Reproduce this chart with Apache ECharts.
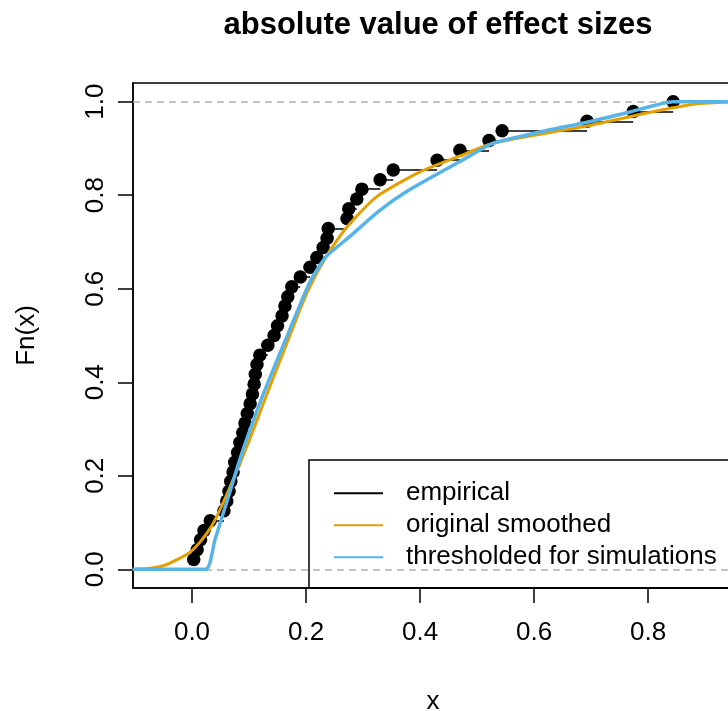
<!DOCTYPE html>
<html><head><meta charset="utf-8">
<script src="https://cdn.jsdelivr.net/npm/echarts@6/dist/echarts.min.js"></script>
<style>html,body{margin:0;padding:0;background:#fff}#c{width:728px;height:711px}</style>
</head><body><div id="c"></div>
<script>
// empirical CDF points (x = |effect size|, y = Fn(x))
const ecdfX = [0.003, 0.009, 0.015, 0.021, 0.032, 0.056, 0.061, 0.065, 0.068, 0.072,
  0.075, 0.080, 0.084, 0.089, 0.093, 0.097, 0.102, 0.106, 0.109, 0.111,
  0.114, 0.119, 0.133, 0.144, 0.150, 0.158, 0.163, 0.168, 0.175, 0.190,
  0.207, 0.219, 0.230, 0.237, 0.239, 0.272, 0.275, 0.289, 0.298, 0.330,
  0.353, 0.430, 0.470, 0.521, 0.544, 0.693, 0.774, 0.844];
const ecdfY = [0.021, 0.042, 0.063, 0.083, 0.104, 0.125, 0.146, 0.167, 0.188, 0.208,
  0.229, 0.250, 0.271, 0.292, 0.313, 0.333, 0.354, 0.375, 0.396, 0.417,
  0.438, 0.458, 0.479, 0.500, 0.521, 0.542, 0.563, 0.583, 0.604, 0.625,
  0.646, 0.667, 0.688, 0.708, 0.729, 0.750, 0.771, 0.792, 0.813, 0.833,
  0.854, 0.875, 0.896, 0.917, 0.938, 0.958, 0.979, 1.000];
// original smoothed CDF
const smoothX = [-0.104, -0.074, -0.047, -0.021, -0.004, 0.014, 0.037, 0.061, 0.098, 0.130,
  0.175, 0.202, 0.235, 0.271, 0.324, 0.400, 0.470, 0.528, 0.628, 0.693, 0.768, 0.844, 0.891, 0.949];
const smoothY = [0.000, 0.002, 0.009, 0.024, 0.036, 0.058, 0.098, 0.160, 0.268, 0.370,
  0.510, 0.592, 0.668, 0.731, 0.797, 0.850, 0.884, 0.911, 0.934, 0.948, 0.968, 0.987, 0.996, 1.000];
// thresholded for simulations
const threshX = [-0.104, 0.024, 0.040, 0.063, 0.088, 0.123, 0.172, 0.207, 0.235, 0.277,
  0.330, 0.382, 0.470, 0.528, 0.628, 0.693, 0.768, 0.844, 0.949];
const threshY = [0.000, 0.000, 0.062, 0.152, 0.250, 0.368, 0.514, 0.615, 0.668, 0.712,
  0.768, 0.812, 0.872, 0.911, 0.940, 0.956, 0.978, 1.000, 1.000];
const xTicks = [0, 0.2, 0.4, 0.6, 0.8];
const yTicks = [0, 0.2, 0.4, 0.6, 0.8, 1.0];
const refLines = [0, 1];

const xMin = -0.1035, xMax = 0.949;
const FONT = 'Liberation Sans, Arial, Helvetica, sans-serif';

const segs = [];
segs.push({coords: [[xMin, 0], [ecdfX[0], 0]]});
for (let i = 0; i < ecdfX.length; i++) {
  const xe = i < ecdfX.length - 1 ? ecdfX[i + 1] : xMax;
  segs.push({coords: [[ecdfX[i], ecdfY[i]], [xe, ecdfY[i]]]});
}

const chart = echarts.init(document.getElementById('c'), null, {renderer: 'canvas'});
chart.setOption({
  animation: false,
  backgroundColor: '#fff',
  title: {
    text: 'absolute value of effect sizes',
    left: 433, top: 5, textAlign: 'center',
    textStyle: {fontFamily: FONT, fontSize: 31, fontWeight: 'bold', color: '#000'}
  },
  grid: {left: 133, top: 83, width: 600, height: 505, show: true, outerBoundsMode: 'none',
    containLabel: false, borderColor: '#000', borderWidth: 1.5, backgroundColor: 'transparent'},
  legend: {
    left: 309, top: 460, orient: 'vertical',
    borderColor: '#000', borderWidth: 1.5,
    padding: [17.5, 40, 15, 24],
    itemWidth: 49, itemHeight: 14, itemGap: 0.5,
    itemStyle: {opacity: 0},
    textStyle: {fontFamily: FONT, fontSize: 26, color: '#000', lineHeight: 31.5, padding: [0, 0, 0, 18]},
    data: ['empirical', 'original smoothed', 'thresholded for simulations']
  },
  xAxis: {
    type: 'value', min: xMin, max: xMax,
    name: 'x', nameLocation: 'middle', nameGap: 101,
    nameTextStyle: {fontFamily: FONT, fontSize: 26, color: '#000'},
    axisLine: {show: true, onZero: false, lineStyle: {color: '#000', width: 1.5}},
    axisTick: {show: true, length: 15, customValues: xTicks, lineStyle: {color: '#000', width: 1.5}},
    axisLabel: {customValues: xTicks, margin: 32, fontFamily: FONT, fontSize: 26, color: '#000',
      formatter: v => v.toFixed(1)},
    splitLine: {show: false}
  },
  yAxis: {
    type: 'value', min: -0.04, max: 1.04, position: 'left',
    name: 'Fn(x)', nameLocation: 'middle', nameGap: 93,
    nameTextStyle: {fontFamily: FONT, fontSize: 26, color: '#000'},
    axisLine: {show: true, onZero: false, lineStyle: {color: '#000', width: 1.5}},
    axisTick: {show: true, inside: false, length: 15, customValues: yTicks, lineStyle: {color: '#000', width: 1.5}},
    axisLabel: {customValues: yTicks, rotate: 90, margin: 24, fontFamily: FONT, fontSize: 26, color: '#000',
      formatter: v => v.toFixed(1)},
    splitLine: {show: false}
  },
  series: [
    {type: 'lines', coordinateSystem: 'cartesian2d', data: segs, silent: true,
      lineStyle: {color: '#000', width: 1.5, opacity: 1}, z: 2},
    {type: 'scatter', data: ecdfX.map((x, i) => [x, ecdfY[i]]), symbol: 'circle', symbolSize: 13.5,
      itemStyle: {color: '#000', opacity: 1}, z: 3, silent: true},
    {name: 'empirical', type: 'line', data: [], symbol: 'none', lineStyle: {color: '#000', width: 1.5},
      itemStyle: {color: '#000'}},
    {name: 'original smoothed', type: 'line', data: smoothX.map((x, i) => [x, smoothY[i]]),
      symbol: 'none', smooth: 0.2, lineStyle: {color: '#E69F00', width: 3},
      itemStyle: {color: '#E69F00'}, z: 4},
    {name: 'thresholded for simulations', type: 'line', data: threshX.map((x, i) => [x, threshY[i]]),
      symbol: 'none', smooth: 0.2, lineStyle: {color: '#56B4E9', width: 3.5},
      itemStyle: {color: '#56B4E9'}, z: 5},
    {type: 'line', data: [], z: 6, silent: true,
      markLine: {silent: true, symbol: 'none', label: {show: false},
        lineStyle: {color: '#B3B3B3', type: [7, 5], width: 1.5},
        data: refLines.map(v => ({yAxis: v}))}}
  ]
});
</script>
</body></html>
